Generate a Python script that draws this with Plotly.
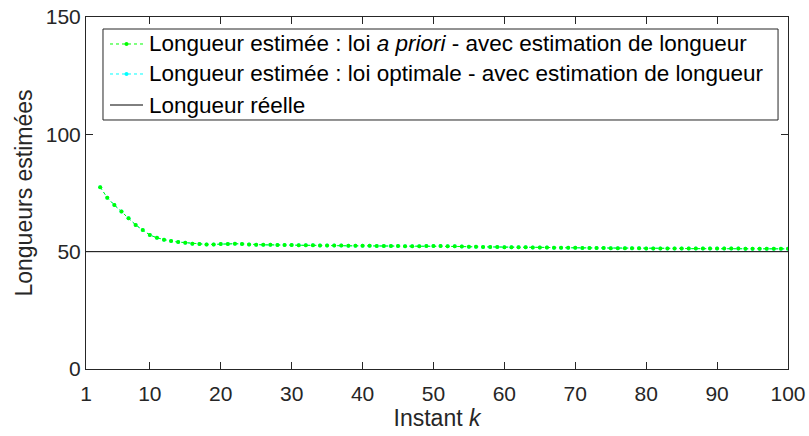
import plotly.graph_objects as go

# Data
instants = list(range(3, 101))
longueur_apriori = [
    77.5, 73.0, 69.9, 67.1, 64.2, 61.4, 59.2, 57.1, 55.9, 55.1,
    54.5, 54.1, 53.8, 53.4, 53.3, 53.1, 53.1, 53.3, 53.3, 53.4,
    53.3, 53.1, 53.0, 52.9, 52.9, 52.8,
    52.8, 52.8, 52.7, 52.7, 52.7, 52.6, 52.6, 52.6, 52.6, 52.5,
    52.5, 52.5, 52.5, 52.4, 52.4, 52.4, 52.4, 52.3, 52.3, 52.3,
    52.4, 52.4, 52.4, 52.3, 52.3, 52.2, 52.1, 52.1, 52.0, 52.0,
    52.0, 51.9, 51.9, 51.9, 51.9, 51.8, 51.8, 51.8, 51.7, 51.7,
    51.7, 51.7, 51.6, 51.6, 51.6, 51.6, 51.5, 51.5, 51.5, 51.5,
    51.5, 51.4, 51.4, 51.4, 51.4, 51.4, 51.4, 51.3, 51.3, 51.3,
    51.3, 51.3, 51.3, 51.3, 51.3, 51.2, 51.2, 51.2, 51.2, 51.2,
    51.2, 51.2,
]
longueur_optimale = list(longueur_apriori)
reel_k = [1, 100]
reel_val = [50, 50]

x_ticks = [1, 10, 20, 30, 40, 50, 60, 70, 80, 90, 100]
y_ticks = [0, 50, 100, 150]

names = [
    "Longueur estimée : loi <i>a priori</i> - avec estimation de longueur",
    "Longueur estimée : loi optimale - avec estimation de longueur",
    "Longueur réelle",
]
colors = ["#00ff00", "#00ffff", "#000000"]

FONT = "Liberation Sans, Arial, Helvetica, sans-serif"
TXT = "#262626"
FS_TICK = 21
FS_TITLE = 23
FS_LEG = 22.5

fig = go.Figure()
fig.add_trace(go.Scatter(
    x=instants, y=longueur_optimale, name=names[1], mode="lines+markers",
    line=dict(color=colors[1], width=1, dash="dot"),
    marker=dict(color=colors[1], size=4),
))
fig.add_trace(go.Scatter(
    x=reel_k, y=reel_val, name=names[2], mode="lines",
    line=dict(color=colors[2], width=1),
))
fig.add_trace(go.Scatter(
    x=instants, y=longueur_apriori, name=names[0], mode="lines+markers",
    line=dict(color=colors[0], width=1, dash="dot"),
    marker=dict(color=colors[0], size=4),
))

# Manual legend (box, samples, labels) in paper coordinates
leg_x0, leg_x1, leg_y0, leg_y1 = 0.0242, 0.9858, 0.7074, 0.9659
row_y = [0.9233, 0.8381, 0.7500]
samp_x0, samp_x1, samp_mid, text_x = 0.0342, 0.0812, 0.0577, 0.0868

shapes = [dict(type="rect", xref="paper", yref="paper", x0=leg_x0, x1=leg_x1,
               y0=leg_y0, y1=leg_y1, line=dict(color=TXT, width=1),
               fillcolor="white", layer="above")]
annotations = []
for i, (nm, col) in enumerate(zip(names, colors)):
    dotted = i < 2
    shapes.append(dict(type="line", xref="paper", yref="paper", x0=samp_x0, x1=samp_x1,
                       y0=row_y[i], y1=row_y[i],
                       line=dict(color=col, width=1, dash="dot" if dotted else "solid"),
                       layer="above"))
    if dotted:
        shapes.append(dict(type="circle", xref="paper", yref="paper",
                           xsizemode="pixel", ysizemode="pixel",
                           xanchor=samp_mid, yanchor=row_y[i],
                           x0=-2, x1=2, y0=-2, y1=2,
                           line=dict(color=col, width=0), fillcolor=col, layer="above"))
    annotations.append(dict(xref="paper", yref="paper", x=text_x, y=row_y[i],
                            xanchor="left", yanchor="middle", showarrow=False,
                            text=nm, font=dict(family=FONT, size=FS_LEG, color="#000000")))

axis_common = dict(
    showgrid=False, zeroline=False, showline=True, linecolor=TXT, linewidth=1,
    mirror="ticks", ticks="inside", ticklen=7, tickcolor=TXT, tickwidth=1,
    tickfont=dict(family=FONT, size=FS_TICK, color=TXT), automargin=False,
)

fig.update_layout(
    width=809, height=436,
    margin=dict(l=86, r=21, t=17, b=67),
    paper_bgcolor="white", plot_bgcolor="white",
    font=dict(family=FONT, size=FS_TICK, color=TXT),
    xaxis=dict(range=[1, 100], tickvals=x_ticks, ticktext=[str(v) for v in x_ticks],
               ticklabelstandoff=6,
               title=dict(text="Instant <i>k</i>", font=dict(family=FONT, size=FS_TITLE, color=TXT), standoff=5),
               **axis_common),
    yaxis=dict(range=[0, 150], tickvals=y_ticks, ticktext=[str(v) for v in y_ticks],
               title=dict(text="Longueurs estimées", font=dict(family=FONT, size=FS_TITLE, color=TXT), standoff=6),
               **axis_common),
    shapes=shapes,
    annotations=annotations,
    showlegend=False,
)

fig.write_html("out.html", config={"displayModeBar": False},
               post_script="document.body.style.margin='0';document.body.style.overflow='hidden';")
